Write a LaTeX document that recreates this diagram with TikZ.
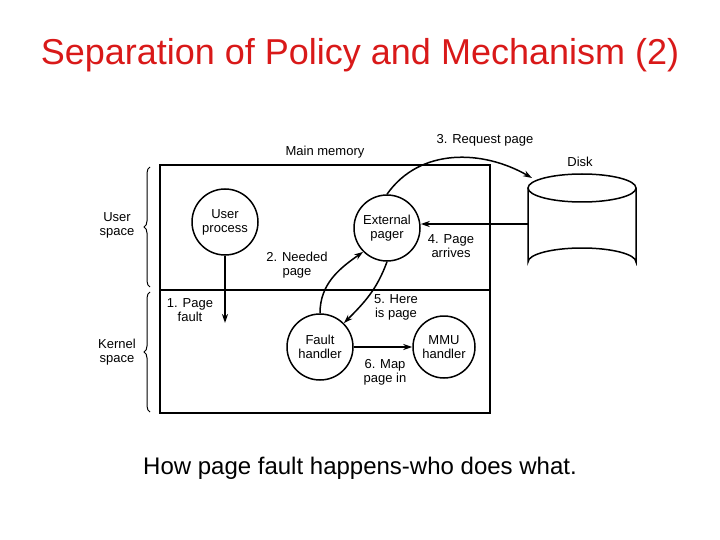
\documentclass[tikz,border=0pt]{standalone}
\usepackage{fontspec}
\setmainfont{Liberation Sans}
\usetikzlibrary{decorations.pathreplacing,shapes.geometric,arrows.meta}
\definecolor{titlered}{rgb}{0.85,0.1,0.1}
\begin{document}
\begin{tikzpicture}[x=1pt,y=-1pt,line width=1.5pt,
  lbl/.style={font=\fontsize{13}{14}\selectfont,align=center,inner sep=1pt},
  proc/.style={circle,draw,minimum size=66pt,inner sep=0pt,font=\fontsize{13}{14}\selectfont,align=center},
  flow/.style={-{Stealth[length=9pt,width=6pt]}}]
\useasboundingbox (0,0) rectangle (720,540);
\node[text=titlered,font=\fontsize{36}{40}\selectfont] (title) at (360,55) {Separation of Policy and Mechanism (2)};
% memory box
\draw (160,165) rectangle (490,413);
\draw (160,290) -- (490,290);
\node[lbl] (mem) at (325,152) {Main memory};
% braces
\draw[line width=1pt,decorate,decoration={brace,amplitude=6pt}] (150,287) -- (150,167);
\draw[line width=1pt,decorate,decoration={brace,amplitude=6pt}] (150,412) -- (150,292);
\node[lbl] (user) at (117,225) {User\\space};
\node[lbl] (kern) at (117,352) {Kernel\\space};
% processes
\node[proc] (up) at (225,222) {User\\process};
\node[proc] (ep) at (387,228) {External\\pager};
\node[proc] (fh) at (320,347) {Fault\\handler};
\node[proc,minimum size=62pt] (mmu) at (444,347) {MMU\\handler};
% disk
\draw[fill=white] (528,188) -- (528,262) arc[start angle=180,end angle=360,x radius=54,y radius=14] -- (636,188);
\draw (582,188) ellipse[x radius=54,y radius=14];
\coordinate (dtop) at (532,178);
\coordinate (dleft) at (528,224);
\node[lbl] (disk) at (580,162) {Disk};
% arrows
\coordinate (pf) at (225,323);
\draw[flow] (up) -- (pf);
\node[lbl] (l1) at (190,310) {1. Page\\fault};
\draw[flow] (fh.north) to[out=90,in=215] (ep.south west);
\node[lbl] (l2) at (297,265) {2. Needed\\page};
\draw[flow] (ep.north) to[out=55,in=150] (dtop);
\node[lbl] (l3) at (485,140) {3. Request page};
\draw[flow] (dleft) -- (ep.east |- dleft);
\node[lbl] (l4) at (451,246) {4. Page\\arrives};
\draw[flow] (ep.south) to[out=-110,in=45] (fh.north east);
\node[lbl] (l5) at (396,307) {5. Here\\is page};
\draw[flow] (fh) -- (mmu);
\node[lbl] (l6) at (385,372) {6. Map\\page in};
\node[font=\fontsize{24}{26}\selectfont] (cap) at (360,468) {How page fault happens-who does what.};
\end{tikzpicture}
\end{document}
